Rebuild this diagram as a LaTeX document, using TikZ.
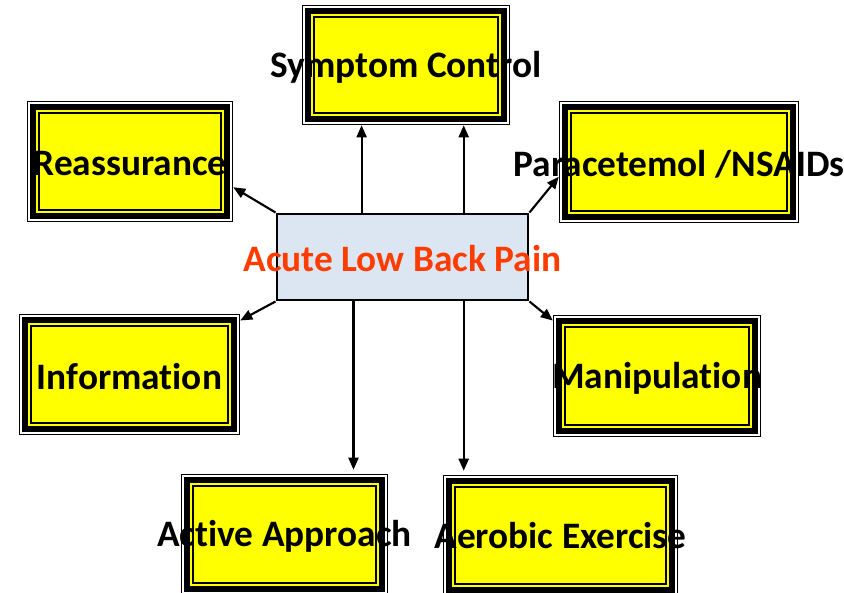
\documentclass[tikz,border=0pt]{standalone}
\usepackage{fontspec}
\setmainfont{Carlito}[Ligatures=NoCommon]
\usetikzlibrary{arrows.meta,fit,calc}
\definecolor{yel}{RGB}{255,255,0}
\definecolor{cbox}{RGB}{220,230,242}
\definecolor{otxt}{RGB}{255,60,0}
\newcommand\dfbox[5]{%
  \fill[white] (#2,#3) rectangle (#4,#5);
  \draw[line width=0.9pt] ({#2+0.6},{#3+0.6}) rectangle ({#4-0.6},{#5-0.6});
  \filldraw[fill=yel, line width=4.1pt] ({#2+5.8},{#3+5.8}) rectangle ({#4-5.8},{#5-5.8});
  \draw[line width=1.5pt] ({#2+12.3},{#3+12.3}) rectangle ({#4-12.3},{#5-12.3});
  \node[inner sep=0pt, fit={(#2,#3) (#4,#5)}] (#1) {};
}
\tikzset{
  arr/.style={line width=1.6pt, -{Triangle[length=9pt,width=7.5pt]}},
  lbl/.style={font=\bfseries\fontsize{28}{32}\selectfont, text=black, inner sep=0pt, yshift=-1.5pt},
  clbl/.style={font=\bfseries\fontsize{28}{32}\selectfont, text=otxt, inner sep=0pt, yshift=-1.5pt},
}
\begin{document}
\begin{tikzpicture}[x=0.75pt,y=-0.75pt]
\useasboundingbox (0,0) rectangle (844,593);
\clip (0,0) rectangle (844,593);
\fill[white] (0,0) rectangle (844,593);
\dfbox{sc}{302}{5}{510}{125}
\dfbox{reas}{27}{101}{233}{222}
\dfbox{par}{559}{101}{799}{223}
\dfbox{info}{19}{314}{240}{435}
\dfbox{man}{553}{315}{761}{437}
\dfbox{act}{181}{474}{388}{595}
\dfbox{aer}{443}{475}{678}{596}
\node[draw, line width=2.2pt, fill=cbox, minimum width=251*0.75pt, minimum height=86*0.75pt, inner sep=0pt] (c) at (402.5,257) {};
% arrows
\draw[arr] (c.north west) -- (reas.-14);
\draw[arr] (c.south west) -- (info.26);
\draw[arr] (c.north east) -- (par.187);
\draw[arr] (c.south east) -- (man.152);
\draw[arr] ($(c.north west)!0.339!(c.north east)$) coordinate (u1) -- (u1 |- sc.south);
\draw[arr] ($(c.north west)!0.741!(c.north east)$) coordinate (u2) -- (u2 |- sc.south);
\draw[arr] ($(c.south west)!0.307!(c.south east)$) coordinate (d1) -- ([yshift=3pt]d1 |- act.north);
\draw[arr] ($(c.south west)!0.741!(c.south east)$) coordinate (d2) -- ([yshift=3pt]d2 |- aer.north);
% texts
\node[clbl] (c-t) at (c.center) {Acute Low Back Pain};
\node[lbl] (sc-t) at (sc.center) {Symptom Control};
\node[lbl] (reas-t) at (reas.center) {Reassurance};
\node[lbl] (par-t) at (par.center) {Paracetemol /NSAIDs};
\node[lbl] (info-t) at (info.center) {Information};
\node[lbl] (man-t) at (man.center) {Manipulation};
\node[lbl] (act-t) at (act.center) {Active Approach};
\node[lbl] (aer-t) at ([yshift=1.5pt]aer.center) {Aerobic Exercise};
\end{tikzpicture}
\end{document}
